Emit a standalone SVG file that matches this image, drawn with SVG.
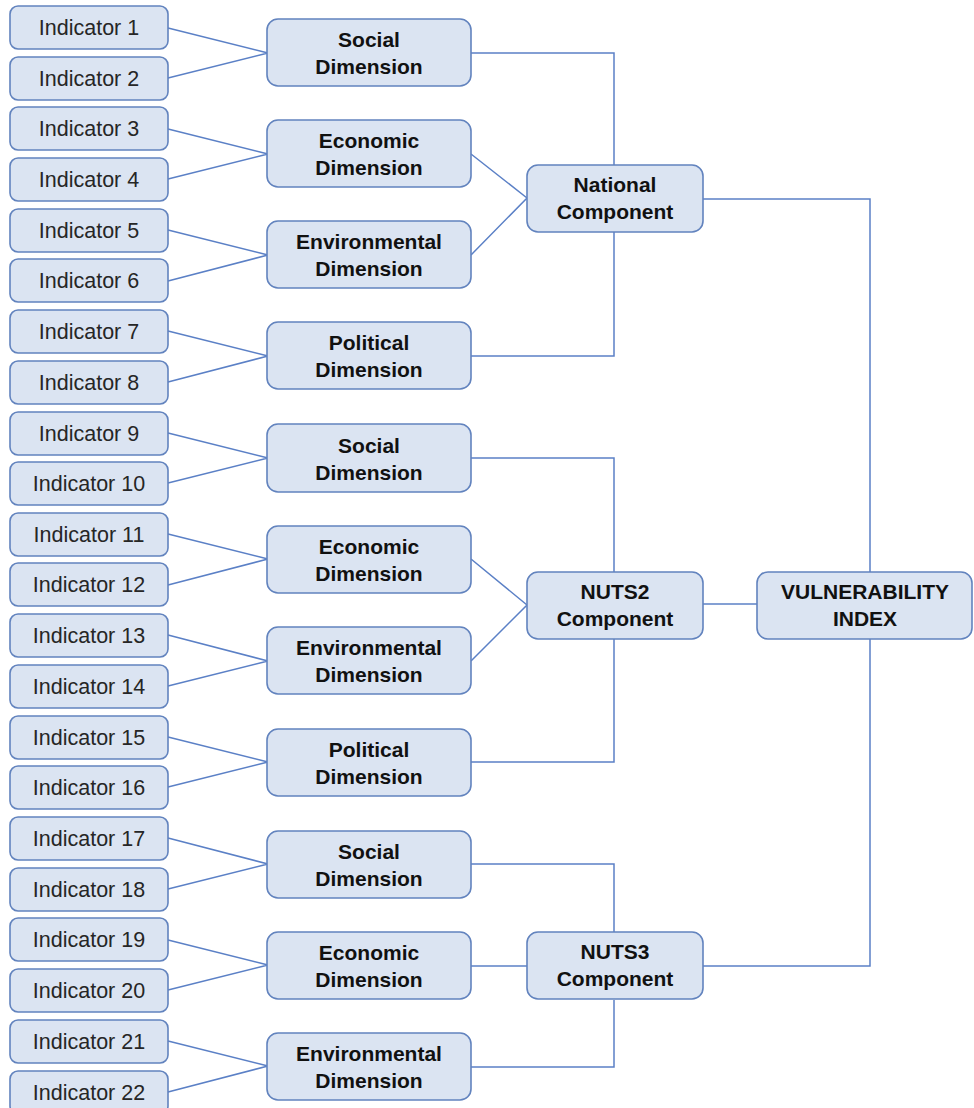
<svg xmlns="http://www.w3.org/2000/svg" width="974" height="1108" viewBox="0 0 974 1108">
  <style>
    .box { fill: #dbe4f2; stroke: #6283be; stroke-width: 1.6; }
    .ind { font-family: "Liberation Sans", Arial, sans-serif; font-size: 21.5px; fill: #262626; text-anchor: middle; }
    .lbl { font-family: "Liberation Sans", Arial, sans-serif; font-size: 21px; font-weight: bold; fill: #111; text-anchor: middle; }
    .link { fill: none; stroke: #5b80c6; stroke-width: 1.5; }
  </style>

  <!-- connectors -->
  <g id="connectors" class="link">
    <!-- indicators to dimensions -->
    <path d="M168,28 L268,53 L168,78"/>
    <path d="M168,129 L268,154 L168,179"/>
    <path d="M168,230 L268,255 L168,281"/>
    <path d="M168,331 L268,356 L168,382"/>
    <path d="M168,433 L268,458 L168,483"/>
    <path d="M168,534 L268,559 L168,585"/>
    <path d="M168,635 L268,661 L168,686"/>
    <path d="M168,737 L268,762 L168,787"/>
    <path d="M168,838 L268,864 L168,889"/>
    <path d="M168,940 L268,965 L168,990"/>
    <path d="M168,1041 L268,1066 L168,1092"/>
    <!-- dimensions to National component -->
    <path d="M471,53 H614 V165"/>
    <path d="M471,154 L527,198 L471,255"/>
    <path d="M614,232 V356 H471"/>
    <!-- dimensions to NUTS2 component -->
    <path d="M471,458 H614 V572"/>
    <path d="M471,559 L527,605 L471,661"/>
    <path d="M614,639 V762 H471"/>
    <!-- dimensions to NUTS3 component -->
    <path d="M471,864 H614 V932"/>
    <path d="M471,966 H527"/>
    <path d="M614,1000 V1067 H471"/>
    <!-- components to index -->
    <path d="M703,199 H870 V572"/>
    <path d="M703,604 H757"/>
    <path d="M870,639 V966 H703"/>
  </g>

  <!-- indicators -->
  <g id="ind1"><rect class="box" x="10" y="6" width="158" height="43" rx="8"/><text class="ind" x="89" y="35">Indicator 1</text></g>
  <g id="ind2"><rect class="box" x="10" y="57" width="158" height="43" rx="8"/><text class="ind" x="89" y="86">Indicator 2</text></g>
  <g id="ind3"><rect class="box" x="10" y="107" width="158" height="43" rx="8"/><text class="ind" x="89" y="136">Indicator 3</text></g>
  <g id="ind4"><rect class="box" x="10" y="158" width="158" height="43" rx="8"/><text class="ind" x="89" y="187">Indicator 4</text></g>
  <g id="ind5"><rect class="box" x="10" y="209" width="158" height="43" rx="8"/><text class="ind" x="89" y="238">Indicator 5</text></g>
  <g id="ind6"><rect class="box" x="10" y="259" width="158" height="43" rx="8"/><text class="ind" x="89" y="288">Indicator 6</text></g>
  <g id="ind7"><rect class="box" x="10" y="310" width="158" height="43" rx="8"/><text class="ind" x="89" y="339">Indicator 7</text></g>
  <g id="ind8"><rect class="box" x="10" y="361" width="158" height="43" rx="8"/><text class="ind" x="89" y="390">Indicator 8</text></g>
  <g id="ind9"><rect class="box" x="10" y="412" width="158" height="43" rx="8"/><text class="ind" x="89" y="441">Indicator 9</text></g>
  <g id="ind10"><rect class="box" x="10" y="462" width="158" height="43" rx="8"/><text class="ind" x="89" y="491">Indicator 10</text></g>
  <g id="ind11"><rect class="box" x="10" y="513" width="158" height="43" rx="8"/><text class="ind" x="89" y="542">Indicator 11</text></g>
  <g id="ind12"><rect class="box" x="10" y="563" width="158" height="43" rx="8"/><text class="ind" x="89" y="592">Indicator 12</text></g>
  <g id="ind13"><rect class="box" x="10" y="614" width="158" height="43" rx="8"/><text class="ind" x="89" y="643">Indicator 13</text></g>
  <g id="ind14"><rect class="box" x="10" y="665" width="158" height="43" rx="8"/><text class="ind" x="89" y="694">Indicator 14</text></g>
  <g id="ind15"><rect class="box" x="10" y="716" width="158" height="43" rx="8"/><text class="ind" x="89" y="745">Indicator 15</text></g>
  <g id="ind16"><rect class="box" x="10" y="766" width="158" height="43" rx="8"/><text class="ind" x="89" y="795">Indicator 16</text></g>
  <g id="ind17"><rect class="box" x="10" y="817" width="158" height="43" rx="8"/><text class="ind" x="89" y="846">Indicator 17</text></g>
  <g id="ind18"><rect class="box" x="10" y="868" width="158" height="43" rx="8"/><text class="ind" x="89" y="897">Indicator 18</text></g>
  <g id="ind19"><rect class="box" x="10" y="918" width="158" height="43" rx="8"/><text class="ind" x="89" y="947">Indicator 19</text></g>
  <g id="ind20"><rect class="box" x="10" y="969" width="158" height="43" rx="8"/><text class="ind" x="89" y="998">Indicator 20</text></g>
  <g id="ind21"><rect class="box" x="10" y="1020" width="158" height="43" rx="8"/><text class="ind" x="89" y="1049">Indicator 21</text></g>
  <g id="ind22"><rect class="box" x="10" y="1071" width="158" height="43" rx="8"/><text class="ind" x="89" y="1100">Indicator 22</text></g>

  <!-- dimensions -->
  <g id="dim-social-nat"><rect class="box" x="267" y="19" width="204" height="67" rx="11"/><text class="lbl" x="369" y="47">Social</text><text class="lbl" x="369" y="74">Dimension</text></g>
  <g id="dim-econ-nat"><rect class="box" x="267" y="120" width="204" height="67" rx="11"/><text class="lbl" x="369" y="148">Economic</text><text class="lbl" x="369" y="175">Dimension</text></g>
  <g id="dim-env-nat"><rect class="box" x="267" y="221" width="204" height="67" rx="11"/><text class="lbl" x="369" y="249">Environmental</text><text class="lbl" x="369" y="276">Dimension</text></g>
  <g id="dim-pol-nat"><rect class="box" x="267" y="322" width="204" height="67" rx="11"/><text class="lbl" x="369" y="350">Political</text><text class="lbl" x="369" y="377">Dimension</text></g>

  <g id="dim-social-n2"><rect class="box" x="267" y="424" width="204" height="68" rx="11"/><text class="lbl" x="369" y="453">Social</text><text class="lbl" x="369" y="480">Dimension</text></g>
  <g id="dim-econ-n2"><rect class="box" x="267" y="526" width="204" height="67" rx="11"/><text class="lbl" x="369" y="554">Economic</text><text class="lbl" x="369" y="581">Dimension</text></g>
  <g id="dim-env-n2"><rect class="box" x="267" y="627" width="204" height="67" rx="11"/><text class="lbl" x="369" y="655">Environmental</text><text class="lbl" x="369" y="682">Dimension</text></g>
  <g id="dim-pol-n2"><rect class="box" x="267" y="729" width="204" height="67" rx="11"/><text class="lbl" x="369" y="757">Political</text><text class="lbl" x="369" y="784">Dimension</text></g>

  <g id="dim-social-n3"><rect class="box" x="267" y="831" width="204" height="67" rx="11"/><text class="lbl" x="369" y="859">Social</text><text class="lbl" x="369" y="886">Dimension</text></g>
  <g id="dim-econ-n3"><rect class="box" x="267" y="932" width="204" height="67" rx="11"/><text class="lbl" x="369" y="960">Economic</text><text class="lbl" x="369" y="987">Dimension</text></g>
  <g id="dim-env-n3"><rect class="box" x="267" y="1033" width="204" height="67" rx="11"/><text class="lbl" x="369" y="1061">Environmental</text><text class="lbl" x="369" y="1088">Dimension</text></g>

  <!-- components -->
  <g id="comp-national"><rect class="box" x="527" y="165" width="176" height="67" rx="11"/><text class="lbl" x="615" y="192">National</text><text class="lbl" x="615" y="219">Component</text></g>
  <g id="comp-nuts2"><rect class="box" x="527" y="572" width="176" height="67" rx="11"/><text class="lbl" x="615" y="599">NUTS2</text><text class="lbl" x="615" y="626">Component</text></g>
  <g id="comp-nuts3"><rect class="box" x="527" y="932" width="176" height="67" rx="11"/><text class="lbl" x="615" y="959">NUTS3</text><text class="lbl" x="615" y="986">Component</text></g>

  <!-- index -->
  <g id="vulnerability-index"><rect class="box" x="757" y="572" width="215" height="67" rx="11"/><text class="lbl" x="865" y="599">VULNERABILITY</text><text class="lbl" x="865" y="626">INDEX</text></g>
</svg>
